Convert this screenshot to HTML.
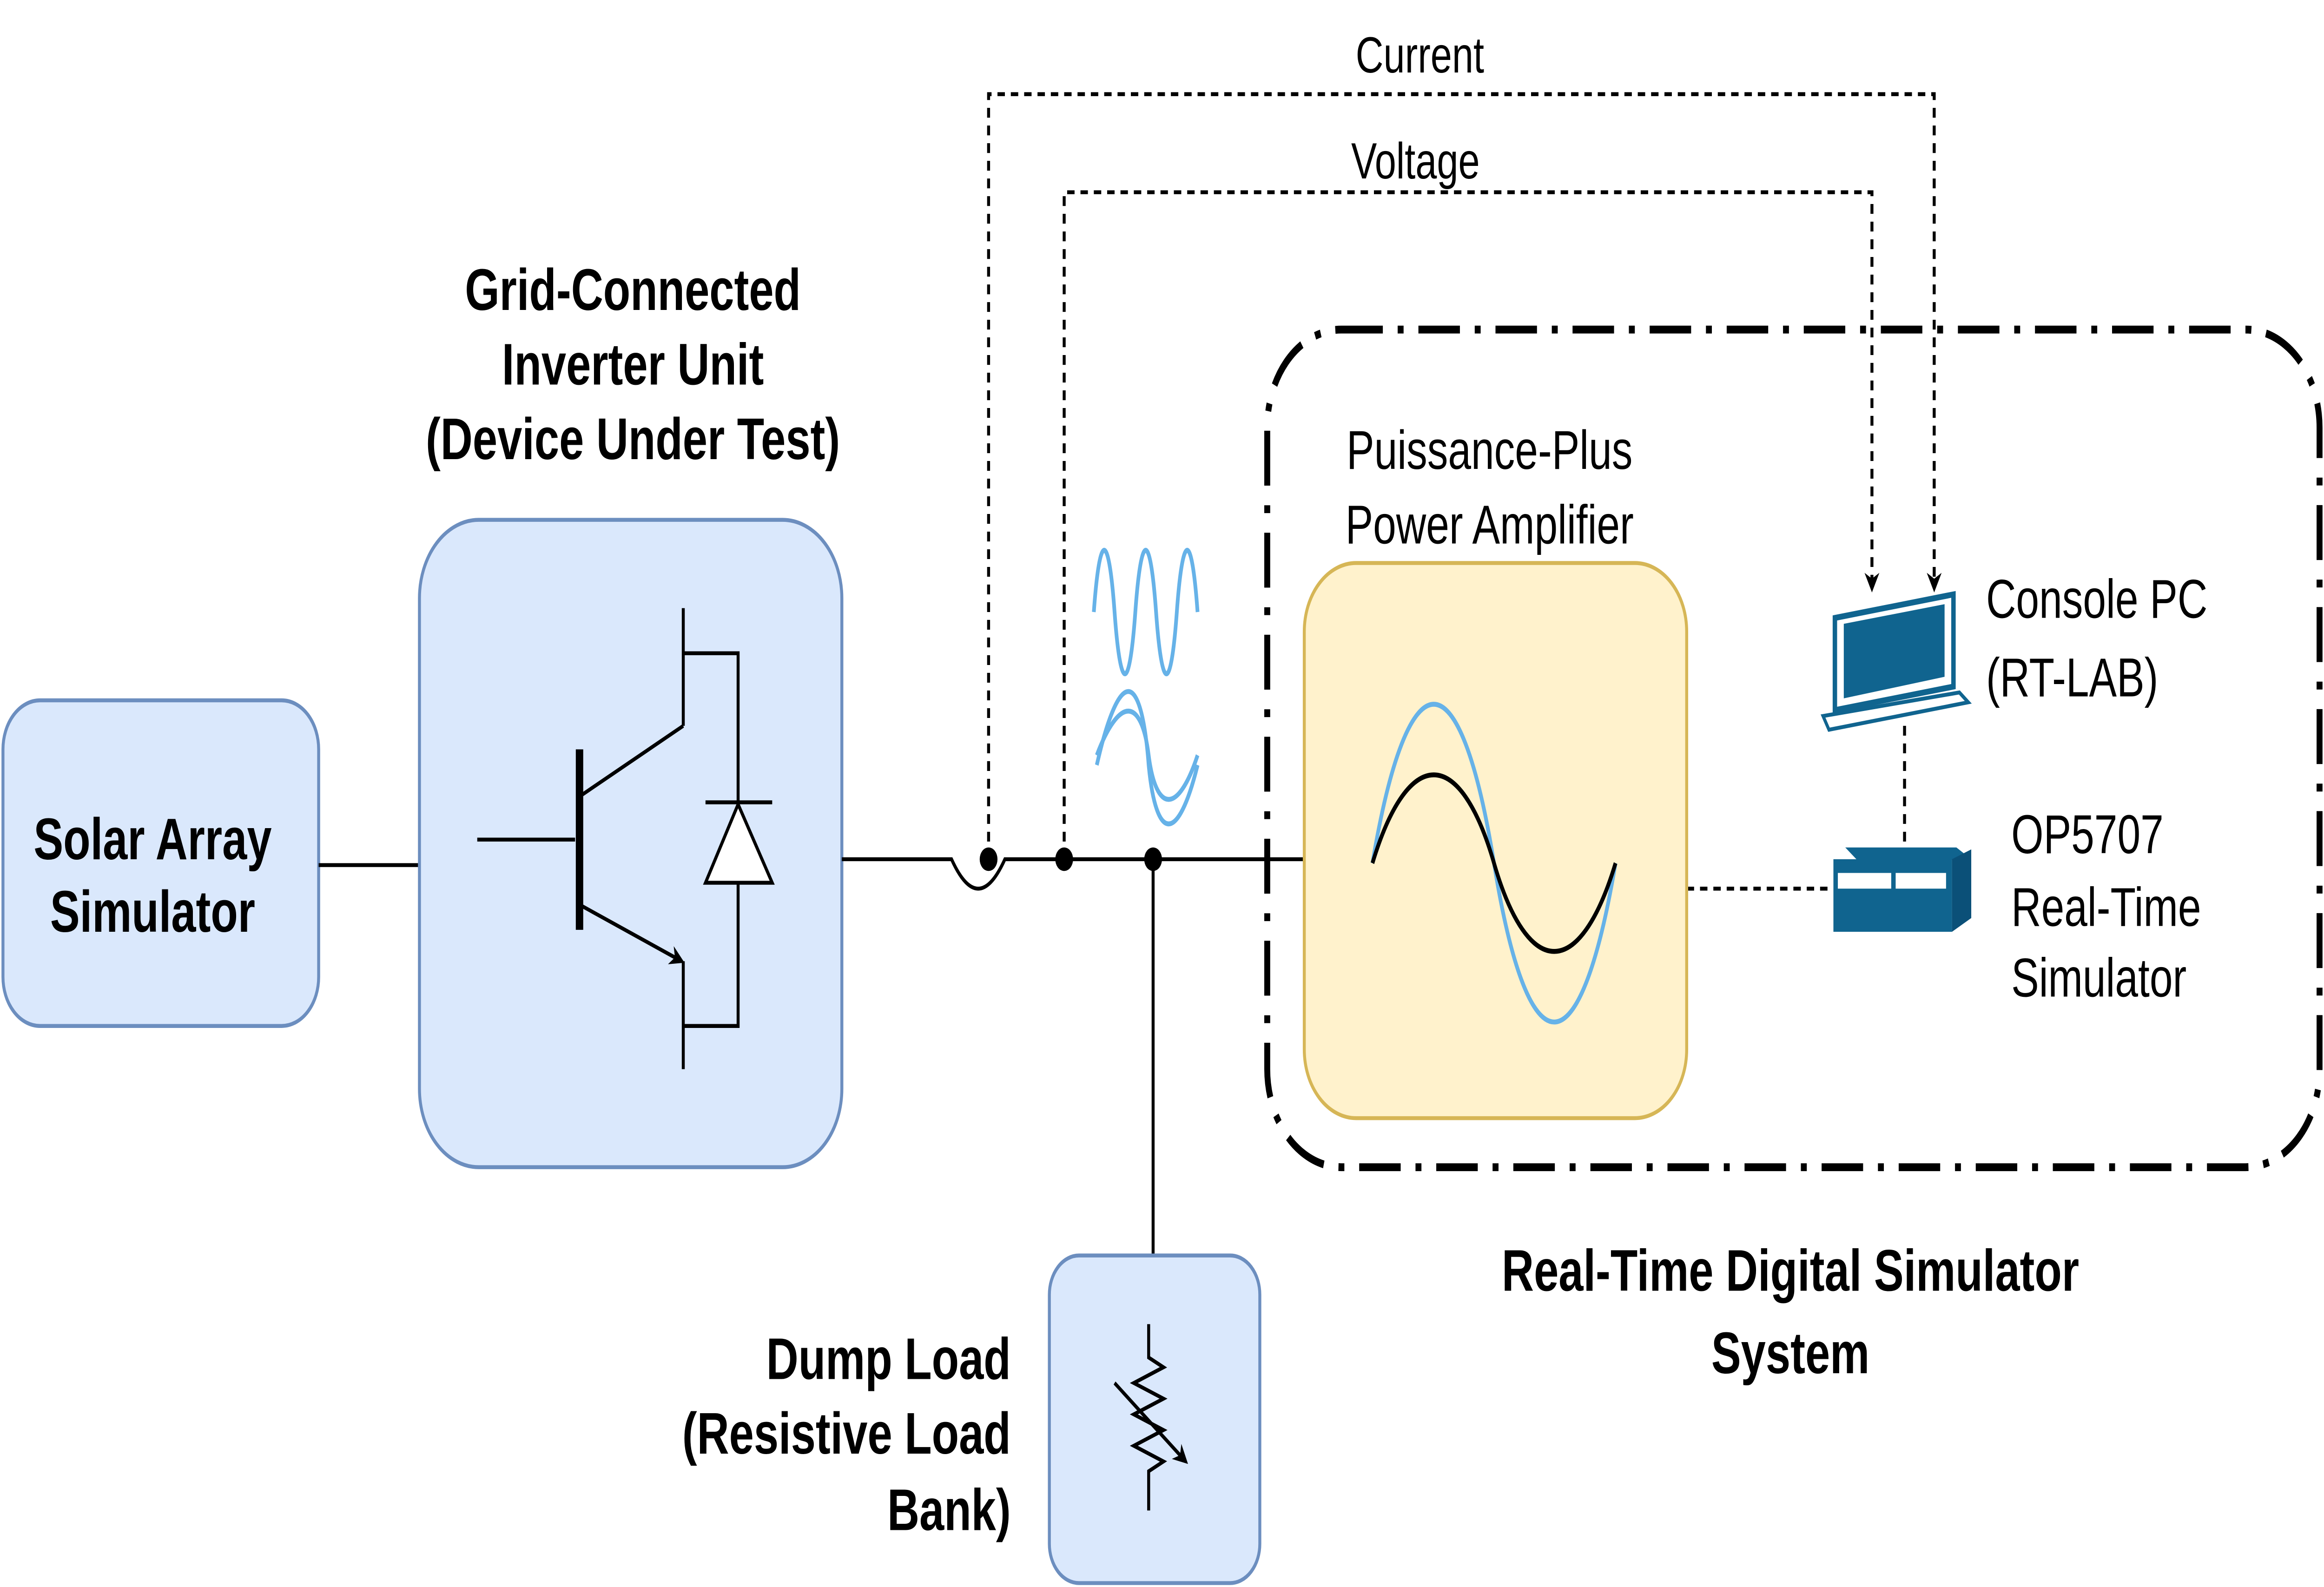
<!DOCTYPE html>
<html><head><meta charset="utf-8"><style>
html,body{margin:0;padding:0;background:#fff;width:100%;height:100%;overflow:hidden}
svg{display:block;width:100vw;height:100vh}
text{font-family:"Liberation Sans",Arial,sans-serif}
</style></head><body>
<svg viewBox="0 0 1568 809" preserveAspectRatio="none" xmlns="http://www.w3.org/2000/svg">
<defs>
<marker id="ar" markerWidth="10" markerHeight="10" refX="8" refY="5" orient="auto" markerUnits="userSpaceOnUse">
<path d="M0,0 L10,5 L0,10 L3,5 Z" fill="#000"/></marker>
</defs>
<rect x="855" y="168" width="710" height="427" rx="50" fill="none" stroke="#000" stroke-width="4" stroke-dasharray="28,10,4,10"/>
<rect x="2" y="357" width="213" height="166" rx="25" fill="#dae8fc" stroke="#6c8ebf" stroke-width="2"/>
<text x="103" y="438" font-size="30" font-weight="bold" text-anchor="middle">Solar Array</text>
<text x="103" y="475" font-size="30" font-weight="bold" text-anchor="middle">Simulator</text>
<line x1="215" y1="441" x2="283" y2="441" stroke="#000" stroke-width="2"/>
<text x="427" y="158" font-size="30" font-weight="bold" text-anchor="middle">Grid-Connected</text>
<text x="427" y="196" font-size="30" font-weight="bold" text-anchor="middle">Inverter Unit</text>
<text x="427" y="234" font-size="30" font-weight="bold" text-anchor="middle">(Device Under Test)</text>
<rect x="283" y="265" width="285" height="330" rx="40" fill="#dae8fc" stroke="#6c8ebf" stroke-width="2"/>
<g stroke="#000" stroke-width="2" fill="none">
<line x1="322" y1="428" x2="388" y2="428"/>
<line x1="391" y1="382" x2="391" y2="474" stroke-width="5"/>
<line x1="393" y1="405" x2="461" y2="370"/>
<line x1="461" y1="310" x2="461" y2="370"/>
<line x1="393" y1="462" x2="460" y2="490" marker-end="url(#ar)"/>
<line x1="461" y1="490" x2="461" y2="545"/>
<polyline points="461,333 498,333 498,523 461,523"/>
<polygon points="476,450 521,450 498,410" fill="#fff"/>
<line x1="476" y1="409" x2="521" y2="409"/>
</g>
<g stroke="#000" stroke-width="2" fill="none">
<path d="M568,438 L642,438 Q660,468 678,438 L880,438"/>
<line x1="778" y1="438" x2="778" y2="640"/>
</g>
<g stroke="#000" stroke-width="2" fill="none" stroke-dasharray="5,4">
<polyline points="667,438 667,48 1305,48 1305,300" marker-end="url(#ar)"/>
<polyline points="718,438 718,98 1263,98 1263,300" marker-end="url(#ar)"/>
<line x1="1138" y1="453" x2="1235" y2="453"/>
<line x1="1285" y1="370" x2="1285" y2="430"/>
</g>
<circle cx="667" cy="438" r="6" fill="#000"/>
<circle cx="718" cy="438" r="6" fill="#000"/>
<circle cx="778" cy="438" r="6" fill="#000"/>
<text x="958" y="37" font-size="26" text-anchor="middle">Current</text>
<text x="955" y="91" font-size="26" text-anchor="middle">Voltage</text>
<g fill="none" stroke="#66b2e8" stroke-width="2.5">
<path d="M738,312 C742,270 748,270 752,312 C756,354 762,354 766,312 C770,270 776,270 780,312 C784,354 790,354 794,312 C798,270 804,270 808,312"/>
<path d="M740,390 C755,340 770,340 775,390 C780,430 795,430 808,390"/>
<path d="M740,385 C755,355 770,355 775,385 C780,415 795,415 808,385"/>
</g>
<rect x="708" y="640" width="142" height="167" rx="20" fill="#dae8fc" stroke="#6c8ebf" stroke-width="2"/>
<g stroke="#000" stroke-width="2" fill="none">
<polyline points="775,675 775,692 785,697 765,705 785,713 765,721 785,729 765,737 785,745 775,750 775,770"/>
<line x1="752" y1="705" x2="800" y2="745" marker-end="url(#ar)"/>
</g>
<text x="682" y="703" font-size="30" font-weight="bold" text-anchor="end">Dump Load</text>
<text x="682" y="741" font-size="30" font-weight="bold" text-anchor="end">(Resistive Load</text>
<text x="682" y="780" font-size="30" font-weight="bold" text-anchor="end">Bank)</text>
<text x="1005" y="239" font-size="28" text-anchor="middle">Puissance-Plus</text>
<text x="1005" y="277" font-size="28" text-anchor="middle">Power Amplifier</text>
<rect x="880" y="287" width="258" height="283" rx="35" fill="#fff2cc" stroke="#d6b656" stroke-width="2"/>
<path d="M926,440 C950,332 985,332 1008,440 C1031,548 1066,548 1090,440" fill="none" stroke="#66b2e8" stroke-width="2.5"/>
<path d="M926,440 C950,380 985,380 1008,440 C1031,500 1066,500 1090,440" fill="none" stroke="#000" stroke-width="2.5"/>
<g fill="#10648f" stroke="#10648f">
<polygon points="1238,315 1318,303 1318,350 1238,362" fill="#fff" stroke-width="3"/>
<polygon points="1244,318 1312,308 1312,345 1244,356" stroke="none"/>
<polygon points="1230,365 1322,353 1328,358 1234,372" fill="#fff" stroke-width="2"/>
</g>
<text x="1340" y="315" font-size="28">Console PC</text>
<text x="1340" y="355" font-size="28">(RT-LAB)</text>
<g>
<polygon points="1245,432 1320,432 1330,438 1255,440" fill="#10648f"/>
<rect x="1237" y="438" width="80" height="37" fill="#10648f"/>
<polygon points="1317,438 1330,433 1330,468 1317,475" fill="#0b5078"/>
<rect x="1240" y="445" width="36" height="8" fill="#fff"/>
<rect x="1279" y="445" width="34" height="8" fill="#fff"/>
</g>
<text x="1357" y="435" font-size="28">OP5707</text>
<text x="1357" y="472" font-size="28">Real-Time</text>
<text x="1357" y="508" font-size="28">Simulator</text>
<text x="1208" y="658" font-size="30" font-weight="bold" text-anchor="middle">Real-Time Digital Simulator</text>
<text x="1208" y="700" font-size="30" font-weight="bold" text-anchor="middle">System</text>
</svg>
</body></html>
